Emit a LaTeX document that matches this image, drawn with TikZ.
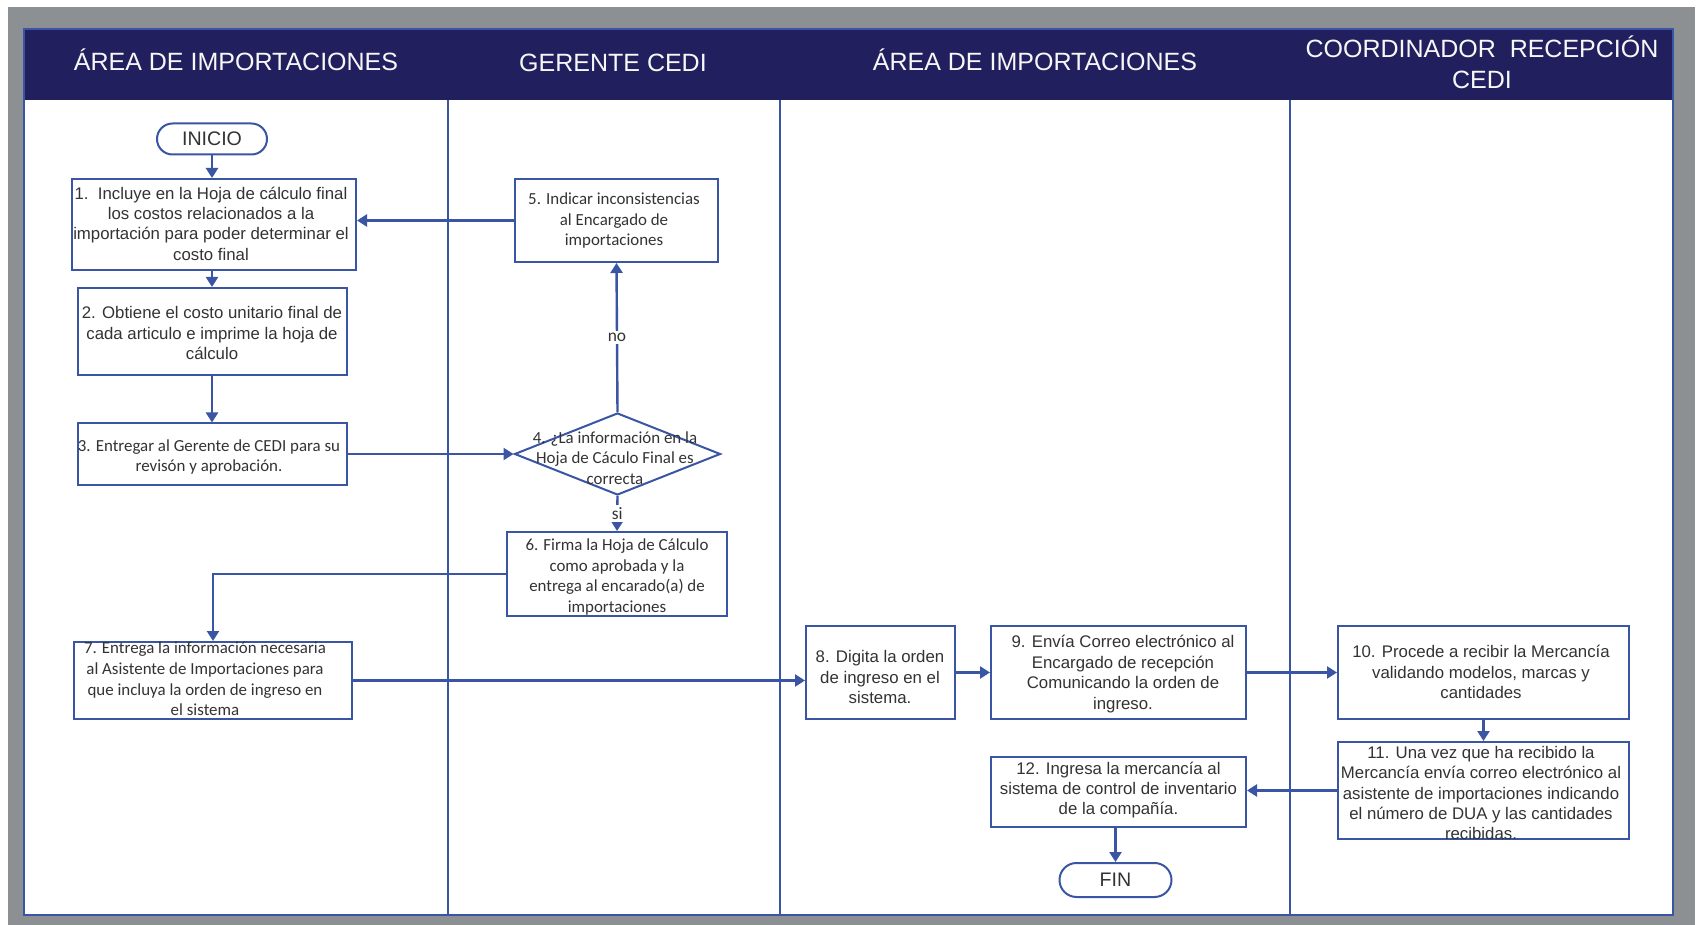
\documentclass[tikz,border=0pt]{standalone}
\usepackage{fontspec}
\setmainfont{Liberation Sans}
\newfontfamily\humfont{Carlito}
\usetikzlibrary{arrows.meta,shapes.geometric,calc}

\definecolor{navy}{HTML}{221F5E}
\definecolor{flow}{HTML}{3A55A4}
\definecolor{framegray}{HTML}{8D9093}
\definecolor{ink}{HTML}{333333}

\begin{document}
\begin{tikzpicture}[x=0.5pt,y=-0.5pt,
  box/.style={draw=flow, line width=1pt, fill=white, inner sep=0pt},
  diam/.style={diamond, draw=flow, line width=1pt, fill=white, inner sep=0pt},
  term/.style={draw=flow, line width=1pt, fill=white, inner sep=0pt,
    font=\fontsize{9.8}{11}\selectfont, text=ink},
  arial/.style={font=\fontsize{8.4}{10.2}\selectfont, text=ink, align=center, inner sep=0pt},
  hum/.style={font=\humfont\fontsize{8.45}{10.3}\selectfont, text=ink, align=center, inner sep=0pt},
  conn/.style={draw=flow, line width=1.2pt, -{Triangle[length=5pt,width=6pt]}},
  lane/.style={draw=flow, line width=0.9pt},
  head/.style={font=\fontsize{12.5}{15.5}\selectfont, text=white!94!gray, align=center, inner sep=0pt},
  cond/.style={font=\humfont\fontsize{8.7}{10}\selectfont, text=ink, fill=white, inner sep=1pt}]

\useasboundingbox (0,0) rectangle (1699,925);
\fill[white] (0,0) rectangle (1699,925);

% outer frame, page area and title band
\fill[framegray] (8,7) rectangle (1695,925);
\fill[white] (24,29) rectangle (1673,915);
\fill[navy] (24,29) rectangle (1673,100);
\draw[lane] (24,29) rectangle (1673,915);

% swimlane separators
\draw[lane] (448,100) -- (448,915);
\draw[lane] (780,100) -- (780,915);
\draw[lane] (1290,100) -- (1290,915);

% lane titles
\node[head] (h1) at (236,60) {ÁREA DE IMPORTACIONES};
\node[head] (h2) at (613,63) {GERENTE CEDI};
\node[head] (h3) at (1035,60) {ÁREA DE IMPORTACIONES};
\node[head] (h4) at (1482,62.5) {COORDINADOR\ \ RECEPCIÓN\\CEDI};

% steps
\node[term, rounded corners=7.75pt, minimum width=55pt, minimum height=15.5pt] (ini) at (212,139) {INICIO};

\node[box, minimum width=142pt, minimum height=45.5pt] (b1) at (214,224.5) {};
\node[arial] (b1t) at (211,223.5) {1.\ \ Incluye en la Hoja de cálculo final\\los costos relacionados a la\\importación para poder determinar el\\costo final};

\node[box, minimum width=134.5pt, minimum height=43.5pt] (b2) at (212,331.5) {};
\node[arial] (b2t) at (212,333) {2. Obtiene el costo unitario final de\\cada articulo e imprime la hoja de\\cálculo};

\node[box, minimum width=134.5pt, minimum height=30.5pt] (b3) at (212,454) {};
\node[hum] (b3t) at (209,457) {3. Entregar al Gerente de CEDI para su\\revisón y aprobación.};

\node[box, minimum width=101.5pt, minimum height=41.5pt] (b5) at (616.5,220.5) {};
\node[hum] (b5t) at (614,220.7) {5. Indicar inconsistencias\\al Encargado de\\importaciones};

\node[diam, minimum width=103pt, minimum height=41pt] (d4) at (617.5,454) {};
\node[hum] (d4t) at (615,458) {4. ¿La información en la\\Hoja de Cáculo Final es\\correcta};

\node[box, minimum width=110pt, minimum height=42pt] (b6) at (617,574) {};
\node[hum] (b6t) at (617,577) {6. Firma la Hoja de Cálculo\\como aprobada y la\\entrega al encarado(a) de\\importaciones};

\node[box, minimum width=139pt, minimum height=38.5pt] (b7) at (213,680.5) {};
\node[hum] (b7t) at (205,679) {7. Entrega la información necesaria\\al Asistente de Importaciones para\\que incluya la orden de ingreso en\\el sistema};

\node[box, minimum width=74.5pt, minimum height=46.5pt] (b8) at (880.5,672.5) {};
\node[arial] (b8t) at (880,677) {8. Digita la orden\\de ingreso en el\\sistema.};

\node[box, minimum width=127.5pt, minimum height=46.5pt] (b9) at (1118.5,672.5) {};
\node[arial] (b9t) at (1123,674) {9. Envía Correo electrónico al\\Encargado de recepción\\Comunicando la orden de\\ingreso.};

\node[box, minimum width=145.5pt, minimum height=46.5pt] (b10) at (1483.5,672.5) {};
\node[arial] (b10t) at (1481,672) {10. Procede a recibir la Mercancía\\validando modelos, marcas y\\cantidades};

\node[box, minimum width=145.5pt, minimum height=48.5pt] (b11) at (1483.5,790.5) {};
\node[arial] (b11t) at (1481,793) {11. Una vez que ha recibido la\\Mercancía envía correo electrónico al\\asistente de importaciones indicando\\el número de DUA y las cantidades\\recibidas.};

\node[box, minimum width=127.5pt, minimum height=35pt] (b12) at (1118.5,792) {};
\node[arial] (b12t) at (1118.5,790) {12. Ingresa la mercancía al\\sistema de control de inventario\\de la compañía.};

\node[term, rounded corners=8.5pt, minimum width=56pt, minimum height=17pt] (fin) at (1115.5,880) {FIN};

% connectors
\draw[conn] (ini.south) -- (ini.south |- b1.north);
\draw[conn] (b2.north |- b1.south) -- (b2.north);
\draw[conn] (b2.south) -- (b3.north);
\draw[conn] (b3.east) -- (b3.east -| d4.west);
\draw[conn] (d4.north) -- (b5.south) node[cond, midway] (lno) {no};
\draw[conn] (b5.west) -- (b5.west -| b1.east);
\draw[conn] (d4.south) -- (b6.north) node[cond, midway] (lsi) {si};
\draw[conn] (b6.west) -| (b7.north);
\draw[conn] (b7.east) -- (b7.east -| b8.west);
\draw[conn] (b8.east) -- (b9.west);
\draw[conn] (b9.east) -- (b10.west);
\draw[conn] (b10.south) -- (b11.north);
\draw[conn] (b11.west) -- (b11.west -| b12.east);
\draw[conn] (fin.north |- b12.south) -- (fin.north);

\end{tikzpicture}
\end{document}
